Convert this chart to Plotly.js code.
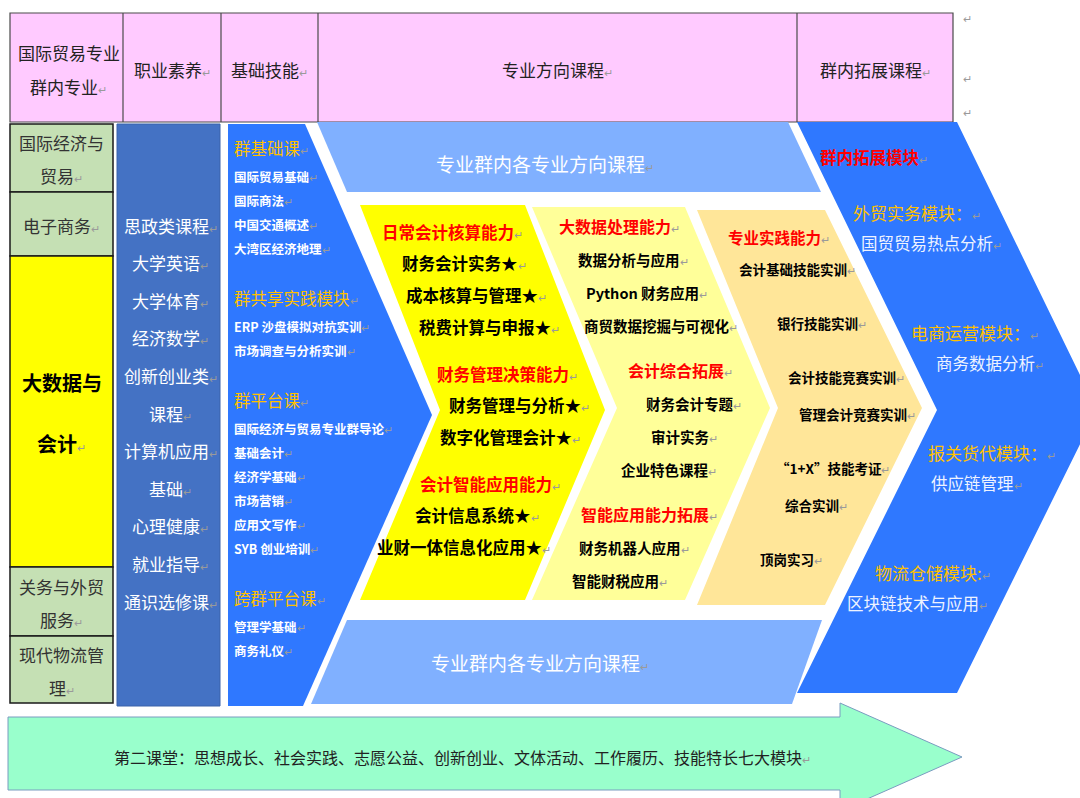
<!DOCTYPE html>
<html>
<head>
<meta charset="utf-8">
<script src="https://cdn.plot.ly/plotly-3.0.1.min.js"></script>
<style>html,body{margin:0;padding:0;background:#fff;}#chart{width:1080px;height:798px;}</style>
</head>
<body>
<div id="chart"></div>
<script>
// ---------------- DATA (text content only) ----------------
const HEADER = ['国际贸易专业<br>群内专业', '职业素养', '基础技能', '专业方向课程', '群内拓展课程'];
const MAJORS = ['国际经济与<br>贸易', '电子商务', '大数据与<br>会计', '关务与外贸<br>服务', '现代物流管<br>理'];
const FOCUS_MAJOR_INDEX = 2;
const LITERACY = ['思政类课程', '大学英语', '大学体育', '经济数学', '创新创业类', '课程', '计算机应用', '基础', '心理健康', '就业指导', '通识选修课'];
const BASIC_GROUPS = ['群基础课', '群共享实践模块', '群平台课', '跨群平台课'];
const BASIC_ITEMS = [
  ['国际贸易基础', '国际商法', '中国交通概述', '大湾区经济地理'],
  ['ERP 沙盘模拟对抗实训', '市场调查与分析实训'],
  ['国际经济与贸易专业群导论', '基础会计', '经济学基础', '市场营销', '应用文写作', 'SYB 创业培训'],
  ['管理学基础', '商务礼仪']
];
const BAND_LABEL = '专业群内各专业方向课程';
const CORE_HEADS = ['日常会计核算能力', '财务管理决策能力', '会计智能应用能力'];
const CORE_ITEMS = [
  ['财务会计实务★', '成本核算与管理★', '税费计算与申报★'],
  ['财务管理与分析★', '数字化管理会计★'],
  ['会计信息系统★', '业财一体信息化应用★']
];
const EXT_HEADS = ['大数据处理能力', '会计综合拓展', '智能应用能力拓展'];
const EXT_ITEMS = [
  ['数据分析与应用', 'Python 财务应用', '商贸数据挖掘与可视化'],
  ['财务会计专题', '审计实务', '企业特色课程'],
  ['财务机器人应用', '智能财税应用']
];
const PRACTICE_HEAD = '专业实践能力';
const PRACTICE_ITEMS = [['会计基础技能实训'], ['银行技能实训'], ['会计技能竞赛实训', '管理会计竞赛实训'], ['“1+X”技能考证', '综合实训'], ['顶岗实习']];
const EXPAND_HEAD = '群内拓展模块';
const EXPAND_MODULES = ['外贸实务模块：', '电商运营模块：', '报关货代模块：', '物流仓储模块:'];
const EXPAND_COURSES = ['国贸贸易热点分析', '商务数据分析', '供应链管理', '区块链技术与应用'];
const SECOND_CLASS = '第二课堂：思想成长、社会实践、志愿公益、创新创业、文体活动、工作履历、技能特长七大模块';

// ---------------- STYLE ----------------
const FONT = '"Noto Sans CJK SC", "Noto Sans", sans-serif';
const C = {
  pink: '#FFCAFF', green: '#C5E0B4', yellow: '#FFFF00', navy: '#4472C4', blue: '#2F78FF',
  band: '#80B0FF', lyellow: '#FFFF99', beige: '#FFE699', mint: '#99FFCC',
  orange: '#FFC000', red: '#FF0000', dark: '#222222', pm: '#9a9a9a'
};
const PM = '<span style="color:' + C.pm + ';font-size:11px;font-weight:normal">↵</span>';

// ---------------- LAYOUT GEOMETRY ----------------
const W = 1080, H = 798;
const HDR = {top: 13, bot: 122, cols: [10, 123, 221, 318, 797, 953]};
const MAJ = {x0: 10, x1: 113, rows: [124, 192, 256, 567, 636, 703]};
const COL2 = {x0: 117, x1: 220, y0: 124, y1: 706, first: 225, step: 37.6};
const COL3 = {x0: 228, top: 124, bot: 706, xr: 305, tipX: 432, tipY: 415, xb: 303,
  textX: 232, first: 148, headGap: 28, step: 24, groupGap: 50};
const CHEV = {
  core: {top: 205, bot: 600, mid: 410, xL: 360, xLn: 440, xR: 525, xRp: 605},
  ext: {top: 207, bot: 600, mid: 408, xL: 532, xLn: 617, xR: 685, xRp: 770},
  prac: {top: 210, bot: 605, mid: 408, xL: 697, xLn: 778, xR: 825, xRp: 922},
  big: {top: 122, bot: 693, mid: 410, xL: 797, xLn: 937, xR: 957, xRp: 1097}
};

const shapes = [];
const annotations = [];

function poly(pts, fill, line) {
  const d = 'M ' + pts.map(p => p[0] + ' ' + p[1]).join(' L ') + ' Z';
  shapes.push({type: 'path', xref: 'x', yref: 'y', path: d, fillcolor: fill,
    line: line || {width: 0}, layer: 'above'});
}
function rect(x0, y0, x1, y1, fill, line) {
  shapes.push({type: 'rect', xref: 'x', yref: 'y', x0, y0, x1, y1, fillcolor: fill,
    line: line || {width: 0}, layer: 'above'});
}
function vline(x, y0, y1, color, w) {
  shapes.push({type: 'line', xref: 'x', yref: 'y', x0: x, x1: x, y0, y1, line: {color, width: w}, layer: 'above'});
}
function txt(x, y, t, size, color, opt) {
  opt = opt || {};
  annotations.push({x, y, xref: 'x', yref: 'y', text: t, showarrow: false,
    xanchor: opt.xanchor || 'center', yanchor: 'middle', align: opt.align || 'center',
    font: {family: opt.family || FONT, size, color}});
}
// multi-line text: each line is its own annotation with a fixed line gap
function lines(x, yc, t, size, color, gap, bold) {
  const parts = t.split('<br>');
  const y0 = yc - gap * (parts.length - 1) / 2;
  parts.forEach((p, i) => {
    const s = bold ? '<b>' + p + '</b>' : p;
    txt(x, y0 + i * gap, s + (i === parts.length - 1 ? PM : ''), size, color);
  });
}
function chevPts(c) {
  return [[c.xL, c.top], [c.xR, c.top], [c.xRp, c.mid], [c.xR, c.bot], [c.xL, c.bot], [c.xLn, c.mid]];
}
function chevCenter(c, y) {
  const f = y < c.mid ? (y - c.top) / (c.mid - c.top) : (c.bot - y) / (c.bot - c.mid);
  const l = c.xL + (c.xLn - c.xL) * f;
  const r = c.xR + (c.xRp - c.xR) * f;
  return (l + r) / 2;
}

// ---------- header table ----------
rect(HDR.cols[0], HDR.top, HDR.cols[HDR.cols.length - 1], HDR.bot, C.pink, {color: '#4a4a4a', width: 1.2});
for (let i = 1; i < HDR.cols.length - 1; i++) vline(HDR.cols[i], HDR.top, HDR.bot, '#4a4a4a', 1.2);
HEADER.forEach((h, i) => {
  const cx = (HDR.cols[i] + HDR.cols[i + 1]) / 2 + (i === 0 ? 2 : 0);
  lines(cx, (HDR.top + HDR.bot) / 2 + 2, h, 17, C.dark, 34, false);
});
// stray paragraph marks right of the table
[18, 78, 112].forEach(y => txt(HDR.cols[5] + 14, y, PM, 11, C.pm));

// ---------- majors column ----------
MAJORS.forEach((m, i) => {
  const y0 = MAJ.rows[i], y1 = MAJ.rows[i + 1];
  const focus = i === FOCUS_MAJOR_INDEX;
  rect(MAJ.x0, y0, MAJ.x1, y1, focus ? C.yellow : C.green, {color: '#1a1a1a', width: 1.5});
  const cx = (MAJ.x0 + MAJ.x1) / 2;
  if (focus) lines(cx, (y0 + y1) / 2 + 1, m, 20, '#000', 61, true);
  else lines(cx, (y0 + y1) / 2 + 1, m, 17, '#333', 33, false);
});

// ---------- literacy column ----------
rect(COL2.x0, COL2.y0, COL2.x1, COL2.y1, C.navy, {color: '#3a62aa', width: 1});
LITERACY.forEach((t, i) => {
  txt((COL2.x0 + COL2.x1) / 2 + 2, COL2.first + i * COL2.step, t + PM, 17, '#fff');
});

// ---------- basic skills chevron ----------
poly([[COL3.x0, COL3.top], [COL3.xr, COL3.top], [COL3.tipX, COL3.tipY], [COL3.xb, COL3.bot], [COL3.x0, COL3.bot]], C.blue);
(function () {
  let y = COL3.first;
  BASIC_GROUPS.forEach((g, gi) => {
    txt(COL3.textX, y, g + PM, 16.5, C.orange, {xanchor: 'left', align: 'left'});
    y += COL3.headGap;
    BASIC_ITEMS[gi].forEach((it, k) => {
      txt(COL3.textX, y, '<b>' + it + '</b>' + PM, 12.5, '#fff', {xanchor: 'left', align: 'left'});
      if (k < BASIC_ITEMS[gi].length - 1) y += COL3.step;
    });
    y += COL3.groupGap;
  });
})();

// ---------- light blue bands ----------
poly([[317, 122], [788, 122], [821, 192], [347, 192]], C.band);
poly([[347, 620], [822, 620], [792, 704], [311, 704]], C.band);
txt(545, 163, BAND_LABEL + PM, 19, '#fff');
txt(540, 662, BAND_LABEL + PM, 19, '#fff');

// ---------- direction chevrons ----------
poly(chevPts(CHEV.core), C.yellow);
poly(chevPts(CHEV.ext), C.lyellow);
poly(chevPts(CHEV.prac), C.beige);
poly(chevPts(CHEV.big), C.blue);

function groupedColumn(c, heads, items, y0, headGap, step, gap, hs, is, shift) {
  let y = y0;
  heads.forEach((h, gi) => {
    txt(chevCenter(c, y) + shift, y, '<b>' + h + '</b>' + PM, hs, C.red);
    y += headGap;
    items[gi].forEach((it, k) => {
      txt(chevCenter(c, y) + shift, y, '<b>' + it + '</b>' + PM, is, '#000');
      if (k < items[gi].length - 1) y += step;
    });
    y += gap;
  });
}
groupedColumn(CHEV.core, CORE_HEADS, CORE_ITEMS, 232, 31, 32, 47, 16.5, 16.5, -1);
groupedColumn(CHEV.ext, EXT_HEADS, EXT_ITEMS, 226, 33, 33, 45, 16, 14.5, 3);

// practice chevron
(function () {
  const c = CHEV.prac;
  txt(chevCenter(c, 237) + 6, 237, '<b>' + PRACTICE_HEAD + '</b>' + PM, 15.5, C.red);
  let y = 269;
  PRACTICE_ITEMS.forEach((grp, gi) => {
    grp.forEach((it, k) => {
      txt(chevCenter(c, y) + 10, y, '<b>' + it + '</b>' + PM, 13.5, '#000');
      if (k < grp.length - 1) y += 37;
    });
    y += 54;
  });
})();

// expansion chevron
(function () {
  const c = CHEV.big;
  txt(chevCenter(c, 157) - 20, 157, '<b>' + EXPAND_HEAD + '</b>' + PM, 16.5, C.red);
  EXPAND_MODULES.forEach((m, i) => {
    const y = 212 + i * 120;
    txt(chevCenter(c, y) - 4, y, m + PM, 17, C.orange);
    txt(chevCenter(c, y + 31) - 4, y + 31, EXPAND_COURSES[i] + PM, 16.5, '#eef3ff');
  });
})();

// ---------- second classroom arrow ----------
poly([[8, 717], [840, 717], [840, 703], [962, 757], [840, 811], [840, 790], [8, 790]], C.mint,
  {color: '#7a9cc0', width: 1});
txt(462, 757, SECOND_CLASS + PM, 16, '#222');

const layout = {
  width: W, height: H,
  margin: {l: 0, r: 0, t: 0, b: 0},
  paper_bgcolor: '#ffffff', plot_bgcolor: '#ffffff',
  showlegend: false,
  xaxis: {range: [0, W], visible: false, fixedrange: true},
  yaxis: {range: [H, 0], visible: false, fixedrange: true},
  shapes, annotations
};
Plotly.newPlot('chart', [{x: [], y: [], type: 'scatter', mode: 'markers', hoverinfo: 'skip'}], layout,
  {staticPlot: true, displayModeBar: false});
</script>
</body>
</html>
